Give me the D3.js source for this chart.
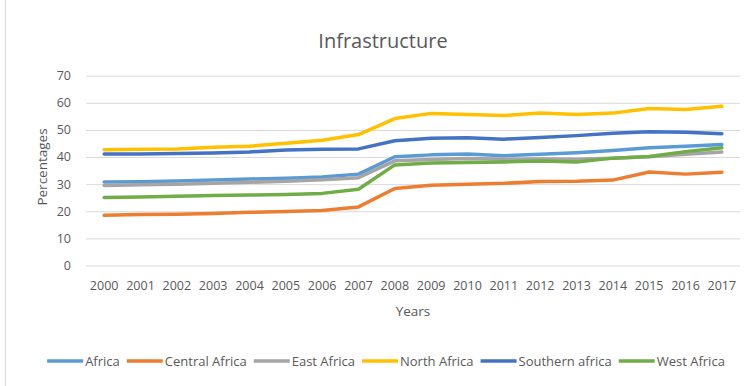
<!DOCTYPE html>
<meta charset="utf-8">
<style>
body { margin: 0; background: #fff; }
text { font-family: "Open Sans", sans-serif; fill: #595959; }
.grid line { stroke: #d9d9d9; stroke-width: 1; }
.grid .domain { display: none; }
.series { fill: none; stroke-width: 3.5; stroke-linejoin: round; stroke-linecap: round; }
</style>
<svg width="752" height="386"></svg>
<script src="https://d3js.org/d3.v7.min.js"></script>
<script>

// data
var years = ["2000","2001","2002","2003","2004","2005","2006","2007","2008",
             "2009","2010","2011","2012","2013","2014","2015","2016","2017"];

var africa   = [30.8,30.9,31.2,31.5,31.9,32.2,32.6,33.7,40.1,40.8,41.1,40.5,41.0,41.6,42.4,43.4,44.0,44.6];
var central  = [18.5,18.8,18.9,19.2,19.6,19.9,20.3,21.6,28.4,29.6,30.0,30.3,31.0,31.1,31.5,34.5,33.7,34.4];
var east     = [29.5,29.8,30.0,30.3,30.7,31.1,31.6,32.4,38.6,39.1,39.5,39.2,39.3,39.2,39.6,40.1,41.0,41.9];
var north    = [42.7,42.9,43.0,43.6,44.0,45.1,46.2,48.3,54.2,56.1,55.7,55.3,56.2,55.7,56.2,57.9,57.5,58.7];
var southern = [41.1,41.1,41.3,41.5,41.9,42.6,42.9,43.0,46.0,46.9,47.1,46.6,47.2,47.9,48.8,49.3,49.1,48.6];
var west     = [25.1,25.3,25.5,25.8,26.0,26.2,26.6,28.1,37.1,37.8,38.0,38.2,38.5,38.2,39.6,40.2,42.0,43.4];

var yTicks = [0,10,20,30,40,50,60,70];

var series = [
  {name: "Africa", values: africa, color: "#5B9BD5"},
  {name: "Central Africa", values: central, color: "#ED7D31"},
  {name: "East Africa", values: east, color: "#A5A5A5"},
  {name: "North Africa", values: north, color: "#FFC000"},
  {name: "Southern africa", values: southern, color: "#4472C4"},
  {name: "West Africa", values: west, color: "#70AD47"}
];

var svg = d3.select("svg");

// chart frame edge on the left
svg.append("line")
    .attr("x1", 5.5).attr("x2", 5.5)
    .attr("y1", 0).attr("y2", 386)
    .attr("stroke", "#d9d9d9");

var x = d3.scaleBand().domain(years).range([86, 740]);
var y = d3.scaleLinear().domain([0, 70]).range([265.5, 75.7]);

// gridlines
svg.append("g")
    .attr("class", "grid")
    .attr("transform", "translate(86,0)")
    .call(d3.axisRight(y).tickValues(yTicks).tickSize(654).tickFormat(""));

// y tick labels
svg.append("g")
    .selectAll("text")
    .data(yTicks)
    .join("text")
      .attr("x", 71)
      .attr("y", d => y(d))
      .attr("dy", "0.35em")
      .attr("text-anchor", "end")
      .style("font-size", "12.5px")
      .text(d => d);

// x tick labels
svg.append("g")
    .selectAll("text")
    .data(years)
    .join("text")
      .attr("x", d => x(d) + x.bandwidth() / 2)
      .attr("y", 286)
      .attr("dy", "0.35em")
      .attr("text-anchor", "middle")
      .style("font-size", "12.5px")
      .text(d => d);

// titles
svg.append("text")
    .attr("x", 383).attr("y", 48)
    .attr("text-anchor", "middle")
    .style("font-size", "20px")
    .text("Infrastructure");

svg.append("text")
    .attr("x", 413).attr("y", 311)
    .attr("dy", "0.35em")
    .attr("text-anchor", "middle")
    .style("font-size", "13.5px")
    .text("Years");

svg.append("text")
    .attr("transform", "translate(42,167) rotate(-90)")
    .attr("dy", "0.35em")
    .attr("text-anchor", "middle")
    .style("font-size", "13.5px")
    .text("Percentages");

// lines
var line = d3.line()
    .x((d, i) => x(years[i]) + x.bandwidth() / 2)
    .y(d => y(d));

svg.append("g")
    .selectAll("path")
    .data(series)
    .join("path")
      .attr("class", "series")
      .attr("stroke", d => d.color)
      .attr("d", d => line(d.values));

// legend, laid out from text widths and centred
var legend = svg.append("g").attr("transform", "translate(0,361)");
var items = legend.selectAll("g")
    .data(series)
    .join("g");

items.append("line")
    .attr("x1", 0).attr("x2", 36)
    .attr("stroke", d => d.color)
    .attr("stroke-width", 3.5);

items.append("text")
    .attr("x", 38)
    .attr("dy", "0.35em")
    .style("font-size", "13px")
    .text(d => d.name);

var cursor = 0;
items.each(function() {
  var w = 38 + this.querySelector("text").getComputedTextLength();
  d3.select(this).attr("transform", "translate(" + cursor + ",0)");
  cursor += w + 7;
});
cursor -= 7;
legend.attr("transform", "translate(" + (386 - cursor / 2) + ",361)");

</script>
